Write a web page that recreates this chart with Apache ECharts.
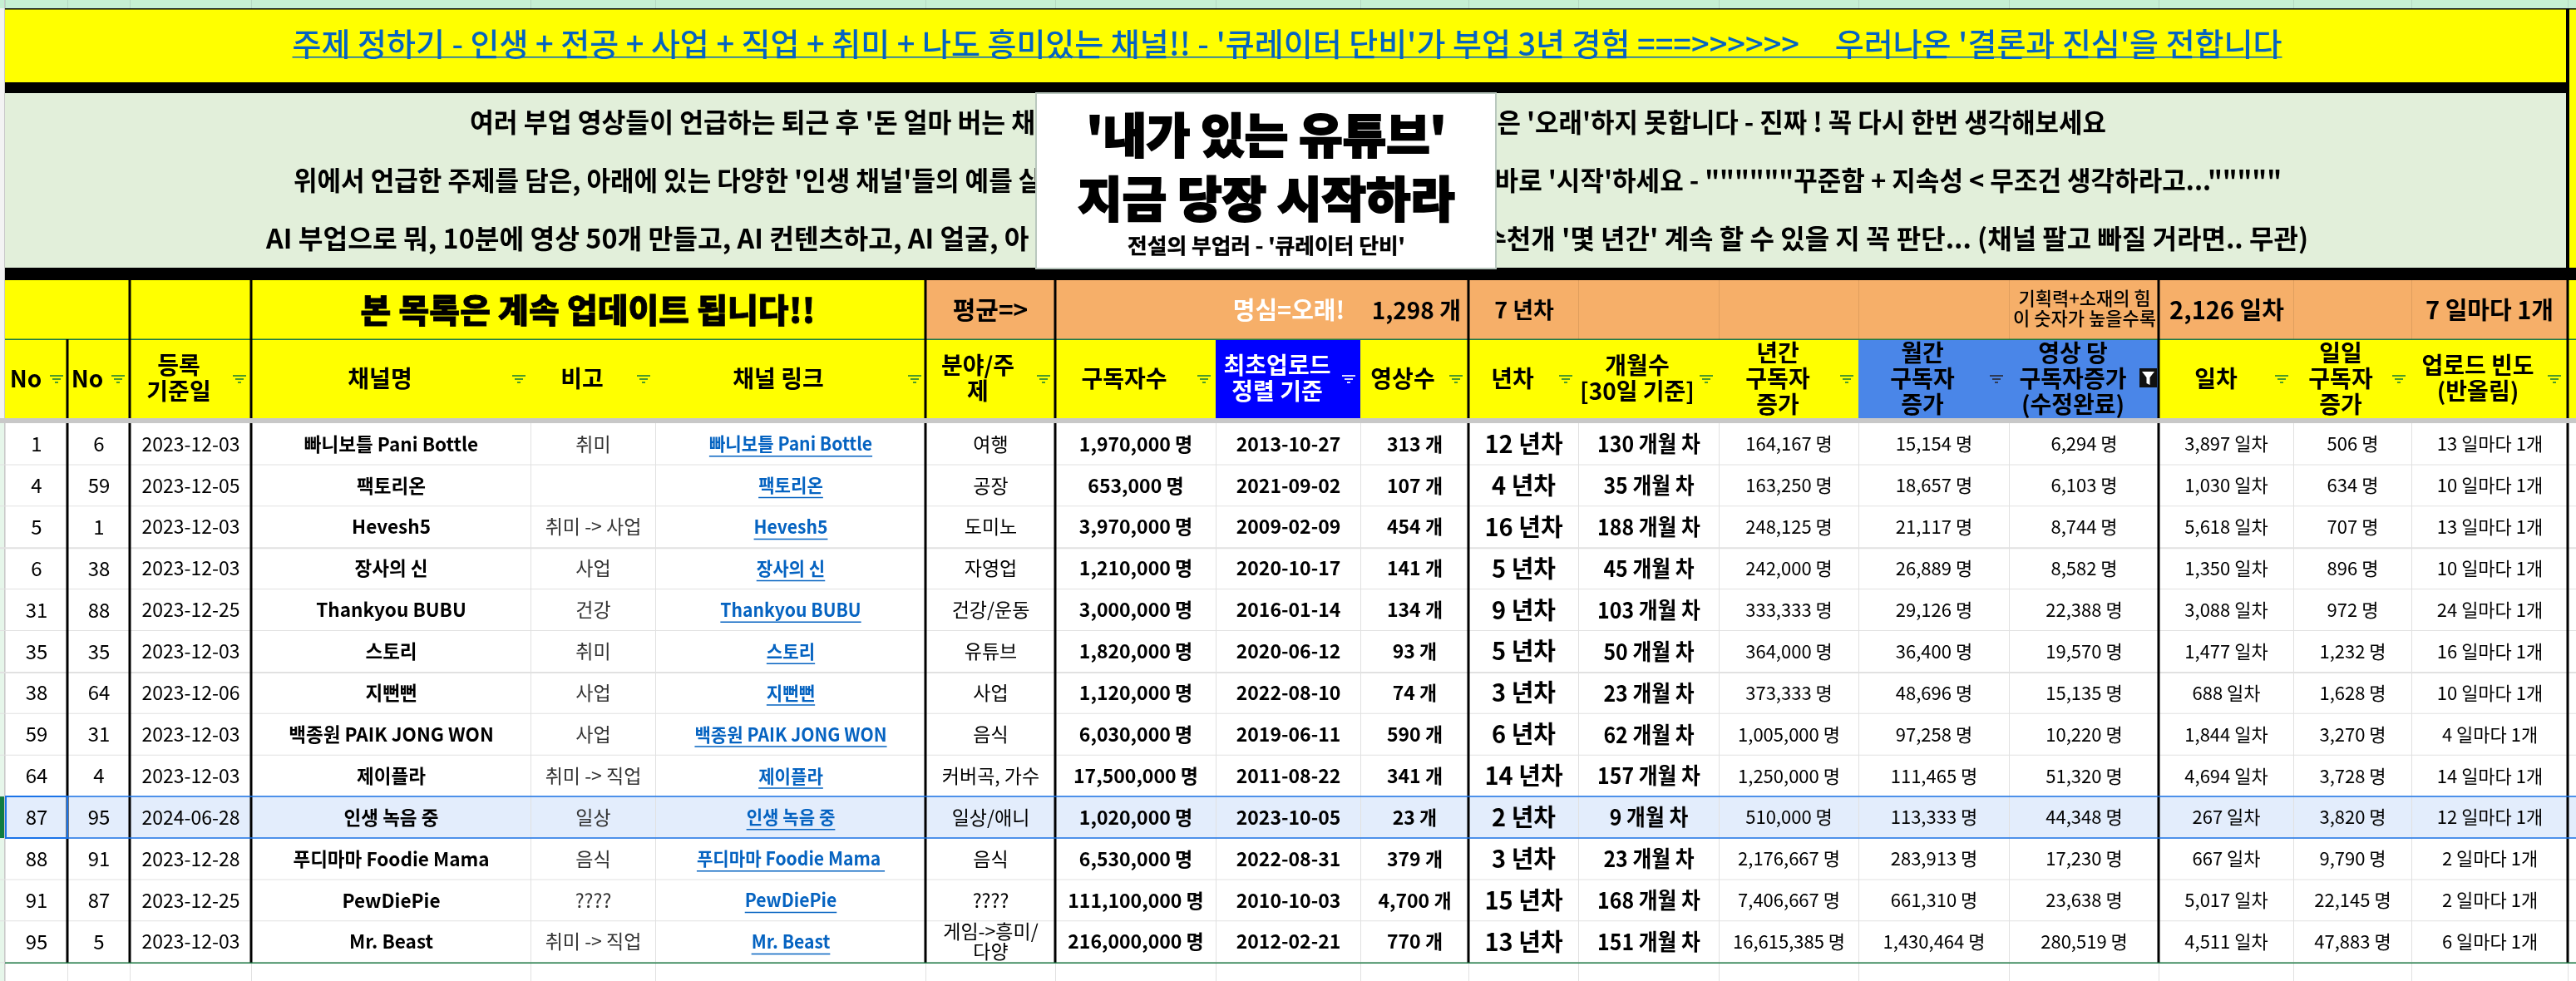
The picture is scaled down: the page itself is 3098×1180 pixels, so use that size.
<!DOCTYPE html>
<html><head><meta charset="utf-8">
<style>html,body{margin:0;padding:0;background:#fff}#c{width:3098px;height:1180px}</style>
<script src="https://cdn.jsdelivr.net/npm/echarts@6/dist/echarts.min.js"></script>
</head><body><div id="c"></div>
<script>
// ---- values ----
const rowNoA=[1,4,5,6,31,35,38,59,64,87,88,91,95];
const rowNoB=[6,59,1,38,88,35,64,31,4,95,91,87,5];
const regDates=['2023-12-03','2023-12-05','2023-12-03','2023-12-03','2023-12-25','2023-12-03','2023-12-06','2023-12-03','2023-12-03','2024-06-28','2023-12-28','2023-12-25','2023-12-03'];
const channelNames=['빠니보틀 Pani Bottle','팩토리온','Hevesh5','장사의 신','Thankyou BUBU','스토리','지뻔뻔','백종원 PAIK JONG WON','제이플라','인생 녹음 중','푸디마마 Foodie Mama','PewDiePie','Mr. Beast'];
const notes=['취미','','취미 -> 사업','사업','건강','취미','사업','사업','취미 -> 직업','일상','음식','????','취미 -> 직업'];
const linkNames=['빠니보틀 Pani Bottle','팩토리온','Hevesh5','장사의 신','Thankyou BUBU','스토리','지뻔뻔','백종원 PAIK JONG WON','제이플라','인생 녹음 중','푸디마마 Foodie Mama ','PewDiePie','Mr. Beast'];
const topics=['여행','공장','도미노','자영업','건강/운동','유튜브','사업','음식','커버곡, 가수','일상/애니','음식','????','게임->흥미/\n다양'];
const subscribers=[1970000,653000,3970000,1210000,3000000,1820000,1120000,6030000,17500000,1020000,6530000,111100000,216000000];
const firstUploads=['2013-10-27','2021-09-02','2009-02-09','2020-10-17','2016-01-14','2020-06-12','2022-08-10','2019-06-11','2011-08-22','2023-10-05','2022-08-31','2010-10-03','2012-02-21'];
const videoCounts=[313,107,454,141,134,93,74,590,341,23,379,4700,770];
const yearsActive=[12,4,16,5,9,5,3,6,14,2,3,15,13];
const monthsActive=[130,35,188,45,103,50,23,62,157,9,23,168,151];
const yearlyGrowth=[164167,163250,248125,242000,333333,364000,373333,1005000,1250000,510000,2176667,7406667,16615385];
const monthlyGrowth=[15154,18657,21117,26889,29126,36400,48696,97258,111465,113333,283913,661310,1430464];
const perVideoGrowth=[6294,6103,8744,8582,22388,19570,15135,10220,51320,44348,17230,23638,280519];
const daysActive=[3897,1030,5618,1350,3088,1477,688,1844,4694,267,667,5017,4511];
const dailyGrowth=[506,634,707,896,972,1232,1628,3270,3728,3820,9790,22145,47883];
const uploadFreq=[13,10,13,10,24,16,10,4,14,12,2,2,6];
const headerLabels=['No','No','등록\n기준일','채널명','비고','채널 링크','분야/주\n제','구독자수','최초업로드\n정렬 기준','영상수','년차','개월수\n[30일 기준]','년간\n구독자\n증가','월간\n구독자\n증가','영상 당\n구독자증가\n(수정완료)','일차','일일\n구독자\n증가','업로드 빈도\n(반올림)'];
const titleText="주제 정하기 - 인생 + 전공 + 사업 + 직업 + 취미 + 나도 흥미있는 채널!! - '큐레이터 단비'가 부업 3년 경험 ===>>>>>>     우러나온 '결론과 진심'을 전합니다";
const noticeLeft=["여러 부업 영상들이 언급하는 퇴근 후 '돈 얼마 버는 채","위에서 언급한 주제를 담은, 아래에 있는 다양한 '인생 채널'들의 예를 살","AI 부업으로 뭐, 10분에 영상 50개 만들고, AI 컨텐츠하고, AI 얼굴, 아"];
const noticeRight=["은 '오래'하지 못합니다 - 진짜 ! 꼭 다시 한번 생각해보세요","고 바로 '시작'하세요 - \"\"\"\"\"\"꾸준함 + 지속성 < 무조건 생각하라고...\"\"\"\"\"","수천개 '몇 년간' 계속 할 수 있을 지 꼭 판단... (채널 팔고 빠질 거라면.. 무관)"];
const overlayLines=["'내가 있는 유튜브'",'지금 당장 시작하라',"전설의 부업러 - '큐레이터 단비'"];
const listBanner='본 목록은 계속 업데이트 됩니다!!';
const avgVideos=1298, avgYears=7, avgDays=2126, avgFreq=7;

// ---- layout (not data) ----
const colEdges=[6,81,156,302,638,788,1113,1269,1462,1636,1766,1898,2067,2235,2416,2596,2758,2900,3088];
const thickCols=[81,156,302,1113,1269,1766,2596,3088];
const headCenters=[31,105,215,457,700,936,1176,1352,1536,1687,1819,1969,2138,2312,2493,2665,2815,2980];
const filterX=[68,142,288,624,774,1100,1255,1448,1622,1751,1883,2052,2221,2401,0,2744,2885,3072];
const rowTop=509,rowH=49.9;
const FONT='"Noto Sans CJK KR","Noto Sans",sans-serif';
const YEL='#FFFF00',BLK='#000000',ORG='#F6AF69',GRID='#E1E1E1',LINK='#0563C1';

const rects=[],rectsTop=[],labels=[],labelsTop=[];
const R=(a,x0,y0,x1,y1,c)=>a.push({x0,y0,x1,y1,c});
const cv=document.createElement('canvas').getContext('2d');
function T(text,x,y,size,weight,fill,align,sx,arr,st){(arr||labels).push({text,x,y,size,weight,fill,align:align||'center',sx:sx||1,st:st||0});}
function width(text,size,weight,sx){cv.font=weight+' '+size+'px '+FONT;return cv.measureText(text).width*(sx||1);}

// sheet chrome
R(rects,0,0,3098,10,'#C6EFD3');
R(rects,0,10,6,509,'#F3F3F3');
R(rects,0,509,6,1180,'#E6F6EA');
R(rects,5,0,6,1180,'#C8C8C8');
for(const e of colEdges) R(rects,e,0,e+1,10,'#B5D8C2');
// title
R(rects,6,11,3098,503,YEL);
R(rects,6,10,3098,11.5,BLK);
// notice panel
R(rects,6,112,3086,322,'#E2EFDA');
R(rects,6,99,3086,112,BLK);
R(rects,6,322,3098,337,BLK);
// header row 1
R(rects,1269,337,3088,408,ORG);
R(rects,1113,337,1269,408,ORG);
for(const e of [1898,2067,2235,2416,2758,2900]) R(rects,e,337,e+1,408,'#E09F5E');
// header row 2 coloured cells
R(rects,1462,408,1636,503,'#0000FF');
R(rects,2235,408,2596,503,'#4A86E8');
R(rects,6,407.5,3098,409,'#1E7B45');
// body
R(rects,6,509,3098,1180,'#FFFFFF');
R(rects,0,503,3098,509,'#C8C8C8');
R(rects,6,rowTop+9*rowH,3098,rowTop+10*rowH,'#E3EDFC');
for(let i=1;i<=13;i++){R(rects,0,rowTop+i*rowH-.5,3098,rowTop+i*rowH+.5+((i==3||i==6)?1:0),GRID);}
for(const e of colEdges) R(rects,e,509,e+1,1180,GRID);
// thick black column rules
for(const e of thickCols){
  if(e!==81) R(rects,e-1.5,337,e+1.5,503,BLK);
  else R(rects,e-1.5,408,e+1.5,503,BLK);
  R(rects,e-1.5,509,e+1.5,1158,BLK);
}
R(rects,3086,11,3090,322,BLK);
// selection
const sy0=rowTop+9*rowH,sy1=rowTop+10*rowH;
R(rects,6,sy0-.75,3098,sy0+.75,'#1A73E8');
R(rects,6,sy1-.75,3098,sy1+.75,'#1A73E8');
R(rects,6,sy0-1,82,sy0+1,'#1A73E8');R(rects,6,sy1-1,82,sy1+1,'#1A73E8');
R(rects,6,sy0-1,8,sy1+1,'#1A73E8');R(rects,80,sy0-1,82,sy1+1,'#1A73E8');
R(rects,0,sy0,5,sy1,'#107C41');
R(rects,6,1157.5,3098,1159,'#1E7B45');

// title + notice texts
const ts=38;
T(titleText,1548,53,ts,'500',LINK);
const tw=width(titleText,ts,'500');
R(rects,1548-tw/2,68,1548+tw/2,69.5,LINK);
const noticeY=[147,217,287],noticeX=[565,353,320],noticeEnd=[2533,2744,2776];
const leftFit=[.98,.97,1.01],rightFit=[.967,.97,1];
noticeLeft.forEach((s,i)=>T(s,noticeX[i],noticeY[i],32,'700','#000','left',leftFit[i]));
noticeRight.forEach((s,i)=>T(s,noticeEnd[i],noticeY[i],32,'700','#000','right',rightFit[i]));
// header row 1
T(listBanner,707,373,40,'900','#000','center',1,null,.8);
T('평균=>',1191,373,30,'700','#000');
T('명심=오래!',1550,373,29,'700','#FFFFFF');
T(avgVideos.toLocaleString('en-US')+' 개',1757,373,28,'700','#000','right');
T(avgYears+' 년차',1833,373,27,'700','#000');
T('기획력+소재의 힘',2507,359,22,'500','#000');
T('이 숫자가 높을수록',2507,383,22,'500','#000');
T(avgDays.toLocaleString('en-US')+' 일차',2678,373,29,'700','#000');
T(avgFreq+' 일마다 1개',2994,373,29,'700','#000');
// header row 2
headerLabels.forEach((s,i)=>{
  const lines=s.split('\n'),lh=31,fill=i===8?'#FFFFFF':'#000';
  const y0=455-(lines.length-1)*lh/2;
  lines.forEach((l,k)=>T(l,headCenters[i],y0+k*lh,28,'700',fill));
});
// filter buttons
filterX.forEach((x,i)=>{
  if(!x)return;
  const c=i===8?'#D9D9FF':i===13?'#2E3A55':'#4C9A2A';
  R(rects,x-8,451,x+8,453,c);R(rects,x-5,455,x+5,457,c);R(rects,x-2,459,x+2,461,c);
});
R(rects,2573,443,2594,466,'#101010');
// body rows
const fmt=n=>n.toLocaleString('en-US');
const columns=[
 [rowNoA,String,'400',24],[rowNoB,String,'400',24],[regDates,String,'400',23],
 [channelNames,String,'700',23,null,false,.98],[notes,String,'400',23,'#333333'],[linkNames,String,'700',22,LINK,true,.96],
 [topics,String,'400',23],[subscribers,n=>fmt(n)+' 명','700',23],[firstUploads,String,'700',23],
 [videoCounts,n=>fmt(n)+' 개','700',23],[yearsActive,n=>n+' 년차','700',29],[monthsActive,n=>n+' 개월 차','700',27,null,false,.92],
 [yearlyGrowth,n=>fmt(n)+' 명','400',22],[monthlyGrowth,n=>fmt(n)+' 명','400',22],[perVideoGrowth,n=>fmt(n)+' 명','400',22],
 [daysActive,n=>fmt(n)+' 일차','400',22],[dailyGrowth,n=>fmt(n)+' 명','400',22],[uploadFreq,n=>n+' 일마다 1개','400',22]
];
columns.forEach(([vals,f,w,size,fill,isLink,sx],c)=>{
  const cx=(colEdges[c]+colEdges[c+1])/2+.5;
  vals.forEach((v,r)=>{
    const s=f(v); if(!s)return;
    const cy=rowTop+(r+.5)*rowH;
    if(s.includes('\n')){s.split('\n').forEach((l,k)=>T(l,cx,cy-12+k*24,size,w,fill||'#000'));return;}
    T(s,cx,cy,size,w,fill||'#000','center',sx);
    if(isLink){const lw=width(s,size,w,sx);R(rects,cx-lw/2,cy+14,cx+lw/2,cy+15.5,LINK);}
  });
});
// overlay box
R(rectsTop,1245,111,1800,324,'#B9C7BE');
R(rectsTop,1247,113,1798,322,'#FFFFFF');
T(overlayLines[0],1523,162,57,'900','#000','center',1,labelsTop,2);
T(overlayLines[1],1523,239,58,'900','#000','center',1,labelsTop,2);
T(overlayLines[2],1523,295,25,'700','#000','center',1.03,labelsTop,.5);

function rectSeries(arr,z){
  return {type:'custom',coordinateSystem:'cartesian2d',z,clip:false,silent:true,animation:false,
    data:arr.map(d=>[d.x0,d.y0]),
    renderItem(p,api){const d=arr[p.dataIndex],a=api.coord([d.x0,d.y0]),b=api.coord([d.x1,d.y1]);
      return {type:'rect',shape:{x:a[0],y:a[1],width:b[0]-a[0],height:b[1]-a[1]},style:{fill:d.c}};}};
}
function textSeries(arr,z){
  return {type:'custom',coordinateSystem:'cartesian2d',z,clip:false,silent:true,animation:false,
    data:arr.map(d=>[d.x,d.y]),
    renderItem(p,api){const d=arr[p.dataIndex],a=api.coord([d.x,d.y]);
      const style={text:d.text,x:0,y:0,fill:d.fill,textAlign:d.align,textVerticalAlign:'middle',font:d.weight+' '+d.size+'px '+FONT};
      if(d.st){style.stroke=d.fill;style.lineWidth=d.st;}
      return {type:'text',x:a[0],y:a[1],scaleX:d.sx,style};}};
}
const funnelPts=[[2576,447],[2591,447],[2585.5,454],[2585.5,463],[2581.5,461],[2581.5,454]];
const chart=echarts.init(document.getElementById('c'),null,{renderer:'canvas',width:3098,height:1180});
chart.setOption({
  animation:false,
  backgroundColor:'#FFFFFF',
  grid:{left:0,right:0,top:0,bottom:0,containLabel:false},
  xAxis:{type:'value',min:0,max:3098,show:false},
  yAxis:{type:'value',min:0,max:1180,inverse:true,show:false},
  series:[rectSeries(rects,1),textSeries(labels,2),
    {type:'custom',coordinateSystem:'cartesian2d',z:2,clip:false,silent:true,data:[[2576,447]],
     renderItem(p,api){return {type:'polygon',shape:{points:funnelPts.map(q=>api.coord(q))},style:{fill:'#FFFFFF'}};}},
    rectSeries(rectsTop,3),textSeries(labelsTop,4)]
});
</script></body></html>
